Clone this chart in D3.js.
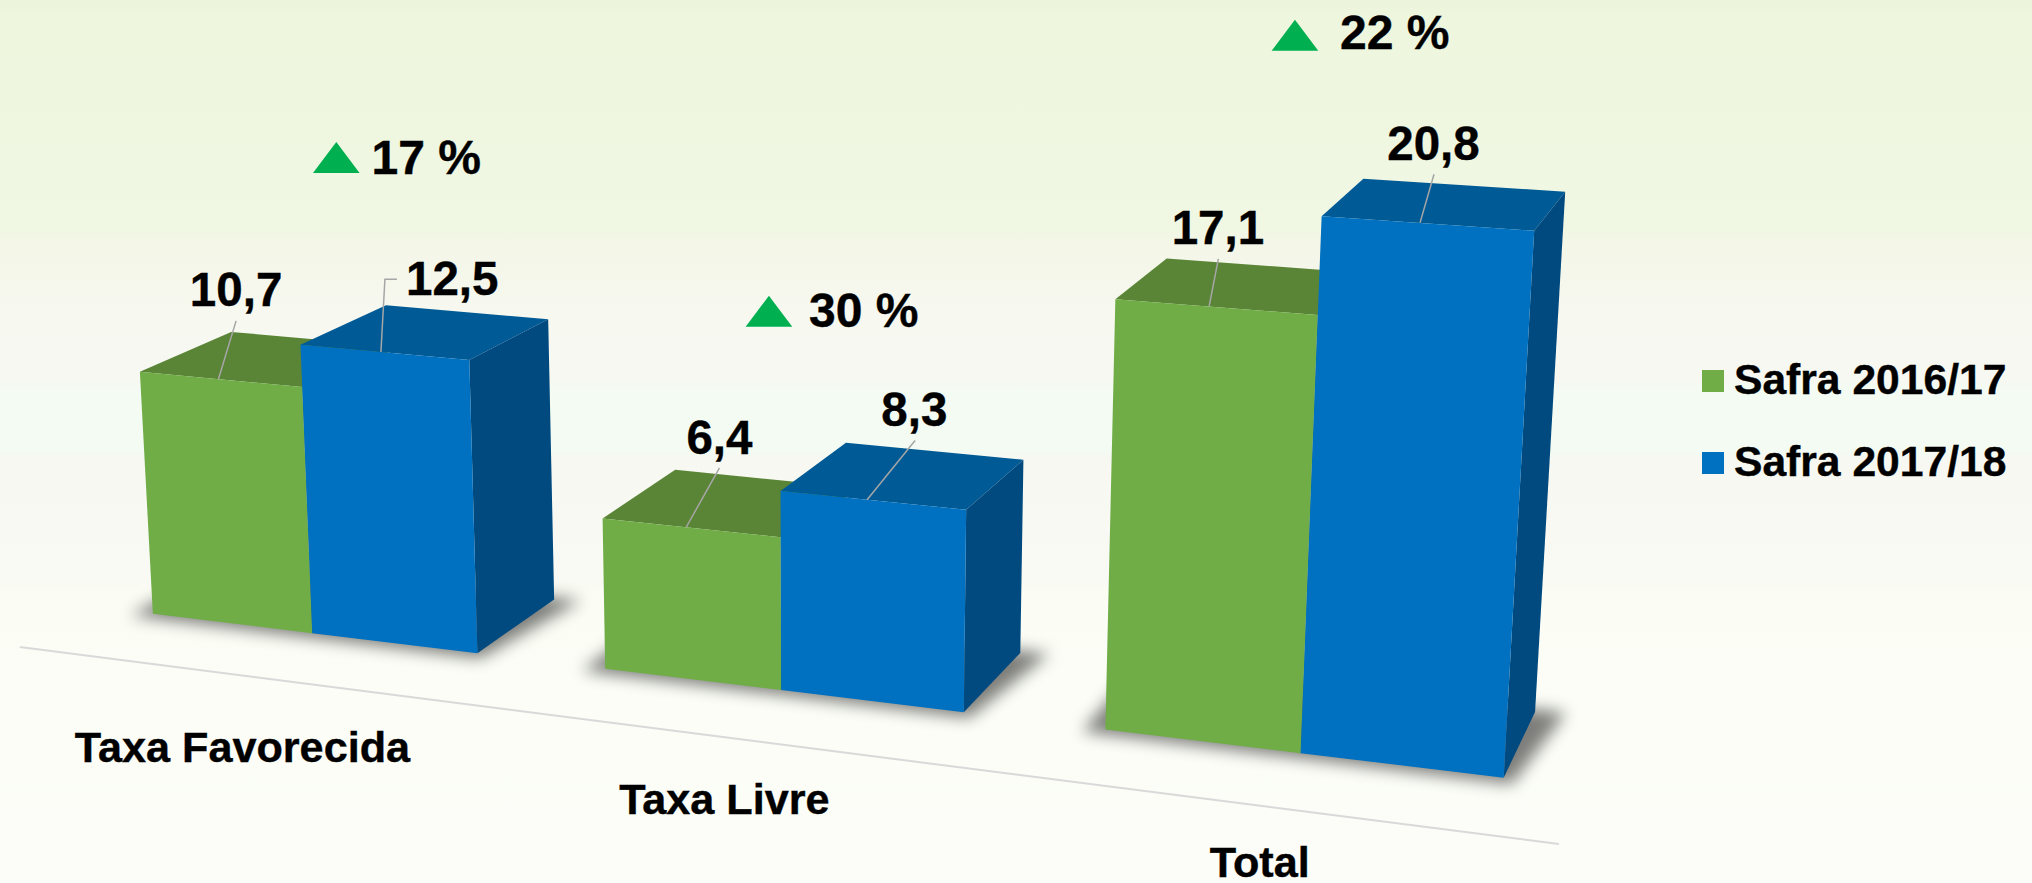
<!DOCTYPE html>
<html>
<head>
<meta charset="utf-8">
<style>
  html, body { margin: 0; padding: 0; overflow: hidden; background: #fcfdf8; }
  text { font-family: "Liberation Sans", Arial, sans-serif; font-weight: bold; fill: #000; stroke: #000; stroke-width: 0.4px; }
</style>
<script src="https://cdn.jsdelivr.net/npm/d3@7"></script>
</head>
<body>
<div id="chart"></div>
<script>
// values
var categories = ["Taxa Favorecida", "Taxa Livre", "Total"];
var seriesNames = ["Safra 2016/17", "Safra 2017/18"];
var safra1617 = [10.7, 6.4, 17.1];
var safra1718 = [12.5, 8.3, 20.8];
var growth = [17, 30, 22];

var width = 2032, height = 883;

// camera fitted to the corners of the bars: world x in bar widths, y in tens, z in bar depths
var cam = [
  [0.15396, -0.01462, 0.10054, 0.15287],
  [0.00834, -0.23283, -0.02328, 0.61379],
  [-0.01739, -0.01784, 0.04773, 1]
];

function project(x, y, z) {
  var w = cam[2][0] * x + cam[2][1] * y + cam[2][2] * z + cam[2][3];
  return [
    1000 * (cam[0][0] * x + cam[0][1] * y + cam[0][2] * z + cam[0][3]) / w,
    1000 * (cam[1][0] * x + cam[1][1] * y + cam[1][2] * z + cam[1][3]) / w
  ];
}

var color = d3.scaleOrdinal().domain(seriesNames).range(["#70ad47", "#0070c0"]);
var topColor = d3.scaleOrdinal().domain(seriesNames).range(["#5a8536", "#005a96"]);
var sideColor = d3.scaleOrdinal().domain(seriesNames).range(["#4e742f", "#004a80"]);

// two bars wide per group, 0.75 of a bar between groups
var x0 = d3.scaleBand().domain(categories).range([0, 7.5]).paddingInner(0.75 / 2.75);
var x1 = d3.scaleBand().domain(seriesNames).range([0, x0.bandwidth()]);
var y = d3.scaleLinear().domain([0, 10]).range([0, 1]);

var polyLine = d3.line();
function face(points) {
  return polyLine(points.map(function(p) { return project(p[0], p[1], p[2]); })) + "Z";
}

var svg = d3.select("#chart").append("svg")
  .attr("width", width)
  .attr("height", height)
  .style("display", "block");

var defs = svg.append("defs");

// the background has faint bands, so the stops come in close pairs
var bg = defs.append("linearGradient")
  .attr("id", "bg")
  .attr("x1", 0).attr("y1", 0).attr("x2", 0).attr("y2", 1);
[[0, "#ecf5db"], [0.02, "#eef6de"], [0.26, "#f0f7e3"], [0.28, "#f4f6e8"], [0.36, "#f7f8f0"], [0.43, "#f7f8f2"],
 [0.44, "#f3fbf2"], [0.51, "#f3fbf2"], [0.52, "#f7f8f1"], [0.66, "#f9faf3"], [0.67, "#fbfdf5"], [1, "#fcfdf8"]].forEach(function(s) {
  bg.append("stop").attr("offset", s[0]).attr("stop-color", s[1]);
});

defs.append("filter").attr("id", "soft")
  .attr("x", "-20%").attr("y", "-30%").attr("width", "140%").attr("height", "160%")
  .append("feGaussianBlur").attr("stdDeviation", 8);

svg.append("rect").attr("width", width).attr("height", height).attr("fill", "url(#bg)");

// floor line
svg.append("path")
  .attr("d", d3.line()([project(-0.378, 0, -0.75), project(7.876, 0, -0.77)]))
  .attr("fill", "none")
  .attr("stroke", "#d9d9d9")
  .attr("stroke-width", 2);

var rows = categories.map(function(c, i) {
  return [
    { cat: c, series: seriesNames[0], value: safra1617[i] },
    { cat: c, series: seriesNames[1], value: safra1718[i] }
  ];
});

var groups = svg.selectAll("g.group")
  .data(rows)
  .enter().append("g")
  .attr("class", "group");

// soft shadow on the floor
groups.append("path")
  .attr("d", function(d) {
    var a = x0(d[0].cat), b = a + x0.bandwidth();
    return face([[a - 0.1, 0, -0.07], [b + 0.05, 0, -0.07], [b + 0.15, 0, 1.04], [a - 0.1, 0, 1.04]]);
  })
  .attr("fill", "#000")
  .attr("opacity", 0.5)
  .attr("filter", "url(#soft)");

groups.each(function(row) {
  var g = d3.select(this);
  row.forEach(function(d) {
    var a = x0(d.cat) + x1(d.series), b = a + x1.bandwidth(), h = y(d.value);
    g.append("path")
      .attr("d", face([[a, h, 0], [b, h, 0], [b, h, 1], [a, h, 1]]))
      .attr("fill", topColor(d.series));
    g.append("path")
      .attr("d", face([[b, h, 0], [b, h, 1], [b, 0, 1], [b, 0, 0]]))
      .attr("fill", sideColor(d.series));
    g.append("path")
      .attr("d", face([[a, h, 0], [b, h, 0], [b, 0, 0], [a, 0, 0]]))
      .attr("fill", color(d.series));
  });
});

// leader foot along the bar's top front edge, then tip and label relative to it
var leaderFoot = [0.488, 0.481, 0.474, 0.471, 0.468, 0.468];
var leaderTips = [[17.7, -58.3], [16, -72.7], [33.3, -59.4], [48, -59.3], [9.3, -47.7], [14, -48.6]];
var labelShift = [[0, -15], [55.3, 16], [0, -14.3], [-0.7, -15], [-0.5, -14.5], [-0.5, -14]];
var bars = [];
rows.forEach(function(row) { row.forEach(function(d) { bars.push(d); }); });

bars.forEach(function(d, i) {
  var p = project(x0(d.cat) + x1(d.series) + leaderFoot[i], y(d.value), 0);
  var tip = [p[0] + leaderTips[i][0], p[1] + leaderTips[i][1]];
  var pts = [p, tip];
  if (i === 1) pts = [p, [p[0] + 4, tip[1]], tip]; // only this one has an elbow
  svg.append("path")
    .attr("d", d3.line()(pts))
    .attr("fill", "none")
    .attr("stroke", "#a6a6a6")
    .attr("stroke-width", 1.5);
  svg.append("text")
    .attr("x", tip[0] + labelShift[i][0])
    .attr("y", tip[1] + labelShift[i][1])
    .attr("text-anchor", "middle")
    .style("font-size", "47.5px")
    .text(d3.format(".1f")(d.value).replace(".", ","));
});

// growth markers above each group
var growthShift = [[-49.7, -132.4], [-77, -116.1], [-68.4, -128]];
var growthGap = [35.3, 40, 45];
var growthDrop = [0.7, 0, -1.4];
rows.forEach(function(row, i) {
  var top = d3.max(row, function(d) { return d.value; });
  var p = project(x0(row[0].cat) + 1, y(top), 1);
  var cx = p[0] + growthShift[i][0], base = p[1] + growthShift[i][1];
  svg.append("path")
    .attr("d", d3.line()([[cx - 23.3, base], [cx + 23.3, base], [cx, base - 31]]) + "Z")
    .attr("fill", "#00b050");
  svg.append("text")
    .attr("x", cx + growthGap[i])
    .attr("y", base + growthDrop[i])
    .style("font-size", "48px")
    .text(growth[i] + " %");
});

// category labels under the floor line
var catDrop = [[-2, 86], [-4, 77], [-7, 72]];
categories.forEach(function(c, i) {
  var p = project(x0(c) + x0.bandwidth() / 2, 0, -0.75);
  svg.append("text")
    .attr("x", p[0] + catDrop[i][0])
    .attr("y", p[1] + catDrop[i][1])
    .attr("text-anchor", "middle")
    .style("font-size", "43.2px")
    .text(c);
});

// legend
var legendY = d3.scalePoint().domain(seriesNames).range([381, 463]);
var legend = svg.selectAll("g.legend")
  .data(seriesNames)
  .enter().append("g")
  .attr("class", "legend")
  .attr("transform", function(d) { return "translate(1702," + legendY(d) + ")"; });
legend.append("rect")
  .attr("y", -11)
  .attr("width", 22)
  .attr("height", 22)
  .attr("fill", function(d) { return color(d); });
legend.append("text")
  .attr("x", 32)
  .attr("y", 13)
  .style("font-size", "42.6px")
  .text(function(d) { return d; });
</script>
</body>
</html>
